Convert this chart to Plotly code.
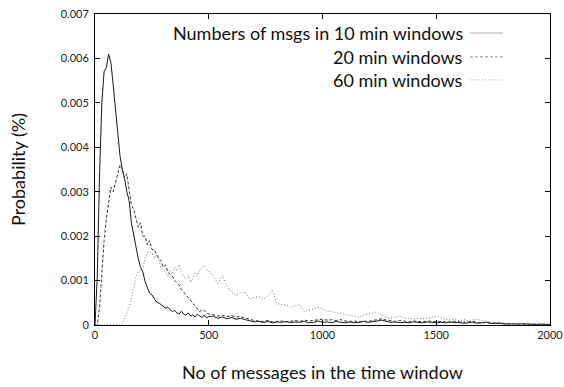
import plotly.graph_objects as go

# Message-count bins: every 10 up to 500, every 20 beyond
X_FINE = list(range(0, 501, 10))
X_TAIL = list(range(520, 2001, 20))
X_BINS = X_FINE + X_TAIL

# 10 min windows
P10 = [
    0.0, 0.0011, 0.0034, 0.0050, 0.0057, 0.0058, 0.0061, 0.0059, 0.0054, 0.0048,
    0.0043, 0.0038, 0.0035, 0.0033, 0.0030, 0.0028, 0.0023, 0.0020, 0.0017, 0.0015,
    0.0013, 0.0012, 0.00098, 0.00085, 0.00072, 0.00068, 0.00060, 0.00052, 0.00050, 0.00046,
    0.00044, 0.00038, 0.00040, 0.00035, 0.00030, 0.00033, 0.00027, 0.00025, 0.00031, 0.00024,
    0.00022, 0.00027, 0.00020, 0.00023, 0.00018, 0.00024, 0.00021, 0.00017, 0.00022, 0.00016,
    0.00019,
    0.00020, 0.00015, 0.00018, 0.00014, 0.00017, 0.00013, 0.00015, 0.00012, 0.00010, 0.00007,
    0.00008, 0.00006, 0.00008, 0.00005, 0.00007, 0.00006, 0.00008, 0.00005, 0.00007, 0.00006,
    0.00008, 0.00005, 0.00006, 0.00009, 0.00006, 0.00007, 0.00005, 0.00008, 0.00006, 0.00005,
    0.00007, 0.00005, 0.00006, 0.00008, 0.00006, 0.00007, 0.00009, 0.00011, 0.00008, 0.00006,
    0.00007, 0.00005, 0.00006, 0.00005, 0.00007, 0.00006, 0.00005, 0.00007, 0.00006, 0.00005,
    0.00006, 0.00005, 0.00007, 0.00005, 0.00006, 0.00004, 0.00005, 0.00006, 0.00004, 0.00005,
    0.00006, 0.00004, 0.00003, 0.00004, 0.00002, 0.00003, 0.00002, 0.00002, 0.00003, 0.00002,
    0.00002, 0.00001, 0.00002, 0.00001, 0.00001,
]

# 20 min windows
P20 = [
    0.0, 0.0, 0.0004, 0.0012, 0.0019, 0.0024, 0.0028, 0.0031, 0.0030, 0.0032,
    0.0034, 0.0036, 0.0035, 0.0033, 0.0034, 0.0030, 0.0027, 0.0026, 0.0024, 0.0022,
    0.0023, 0.0020, 0.0020, 0.0018, 0.0019, 0.0017, 0.0017, 0.0016, 0.0015, 0.00145,
    0.0013, 0.00135, 0.0012, 0.00115, 0.0011, 0.0010, 0.00096, 0.0009, 0.0008, 0.00074,
    0.00068, 0.0006, 0.00056, 0.0005, 0.00042, 0.00036, 0.0003, 0.00034, 0.00033, 0.00027,
    0.00025,
    0.00023, 0.00020, 0.00022, 0.00019, 0.00021, 0.00018, 0.00019, 0.00016, 0.00013, 0.00010,
    0.00009, 0.00008, 0.00010, 0.00007, 0.00008, 0.00009, 0.00007, 0.00008, 0.00010, 0.00008,
    0.00011, 0.00009, 0.00010, 0.00012, 0.00013, 0.00011, 0.00012, 0.00010, 0.00012, 0.00009,
    0.00008, 0.00009, 0.00007, 0.00009, 0.00008, 0.00010, 0.00012, 0.00014, 0.00011, 0.00009,
    0.00008, 0.00010, 0.00008, 0.00007, 0.00009, 0.00008, 0.00007, 0.00009, 0.00008, 0.00007,
    0.00008, 0.00007, 0.00006, 0.00008, 0.00007, 0.00006, 0.00007, 0.00008, 0.00006, 0.00005,
    0.00006, 0.00004, 0.00005, 0.00004, 0.00003, 0.00002, 0.00003, 0.00002, 0.00002, 0.00001,
    0.00002, 0.00001, 0.00001, 0.00001, 0.00001,
]

# 60 min windows
P60 = [
    0.0, 0.0, 0.0, 0.0, 0.0, 0.0, 0.0, 0.0, 0.0, 0.0,
    0.0, 0.0, 0.00002, 0.00014, 0.00025, 0.0004, 0.00058, 0.0008, 0.00108, 0.0012,
    0.00122, 0.00126, 0.0015, 0.0016, 0.0017, 0.00162, 0.0015, 0.00158, 0.00148, 0.0013,
    0.00125, 0.0012, 0.0011, 0.00122, 0.00114, 0.0013, 0.00122, 0.00136, 0.0012, 0.0011,
    0.00104, 0.00112, 0.00096, 0.00104, 0.00116, 0.0011, 0.00124, 0.0013, 0.00134, 0.00126,
    0.0012,
    0.0011, 0.00094, 0.00112, 0.00088, 0.00074, 0.00066, 0.00072, 0.00074, 0.00058, 0.00062,
    0.00064, 0.00058, 0.00066, 0.00078, 0.00048, 0.00046, 0.00044, 0.0004, 0.00043, 0.00046,
    0.0003, 0.00034, 0.00036, 0.0004, 0.00037, 0.0003, 0.00032, 0.00027, 0.00026, 0.00023,
    0.00022, 0.0002, 0.00018, 0.00022, 0.00024, 0.00027, 0.0003, 0.00022, 0.00017, 0.00015,
    0.00018, 0.0002, 0.00016, 0.00015, 0.00013, 0.00016, 0.00014, 0.00015, 0.00017, 0.00019,
    0.00017, 0.00013, 0.00011, 0.00012, 0.0001, 0.00012, 0.0001, 0.00012, 0.00013, 0.0001,
    0.00008, 0.00007, 0.00005, 0.00006, 0.00004, 0.00004, 0.00003, 0.00004, 0.00003, 0.00003,
    0.00002, 0.00003, 0.00002, 0.00002, 0.00002,
]

SERIES_NAMES = ["Numbers of msgs in 10 min windows", "20 min windows", "60 min windows"]
X_TICKS = [0, 500, 1000, 1500, 2000]
Y_TICKS = [0, 0.001, 0.002, 0.003, 0.004, 0.005, 0.006, 0.007]
Y_TICK_TEXT = ["0", "0.001", "0.002", "0.003", "0.004", "0.005", "0.006", "0.007"]

FONT = "Lato"
styles = [
    dict(color="#1a1a1a", width=1, dash="solid"),
    dict(color="#333333", width=1, dash="3px,2px"),
    dict(color="#777777", width=1, dash="1px,2px"),
]
legend_colors = ["#b0b0b0", "#888888", "#999999"]

fig = go.Figure()
for name, ys, st in zip(SERIES_NAMES, [P10, P20, P60], styles):
    assert len(ys) == len(X_BINS)
    fig.add_trace(go.Scatter(x=X_BINS, y=ys, mode="lines", name=name,
                             line=st, showlegend=False))

# Legend drawn as right-aligned labels with the line key to their right
row_y = [0.939, 0.862, 0.788]
for name, y, st, col in zip(SERIES_NAMES, row_y, styles, legend_colors):
    fig.add_annotation(x=0.813, y=y, xref="paper", yref="paper", text=name,
                       showarrow=False, xanchor="right", yanchor="middle",
                       font=dict(family=FONT, size=18, color="#111"))
    fig.add_shape(type="line", xref="paper", yref="paper",
                  x0=0.824, x1=0.897, y0=y, y1=y,
                  line=dict(color=col, width=1, dash=st["dash"]))

axis_common = dict(showline=True, linecolor="black", linewidth=1, mirror="ticks",
                   ticks="inside", ticklen=5, tickcolor="black", showgrid=False,
                   zeroline=False, automargin=False,
                   tickfont=dict(family=FONT, size=11, color="#222"))

fig.update_xaxes(range=[0, 2000], tickvals=X_TICKS,
                 title=dict(text="No of messages in the time window",
                            font=dict(family=FONT, size=18, color="#111"), standoff=26),
                 **axis_common)
fig.update_yaxes(range=[0, 0.007], tickvals=Y_TICKS, ticktext=Y_TICK_TEXT,
                 title=dict(text="Probability (%)",
                            font=dict(family=FONT, size=18, color="#111"), standoff=30),
                 ticklabelstandoff=3,
                 **axis_common)

fig.update_layout(width=564, height=387, margin=dict(l=95, r=14, t=14, b=62),
                  paper_bgcolor="white", plot_bgcolor="white",
                  font=dict(family=FONT))

fig.write_html("out.html")
